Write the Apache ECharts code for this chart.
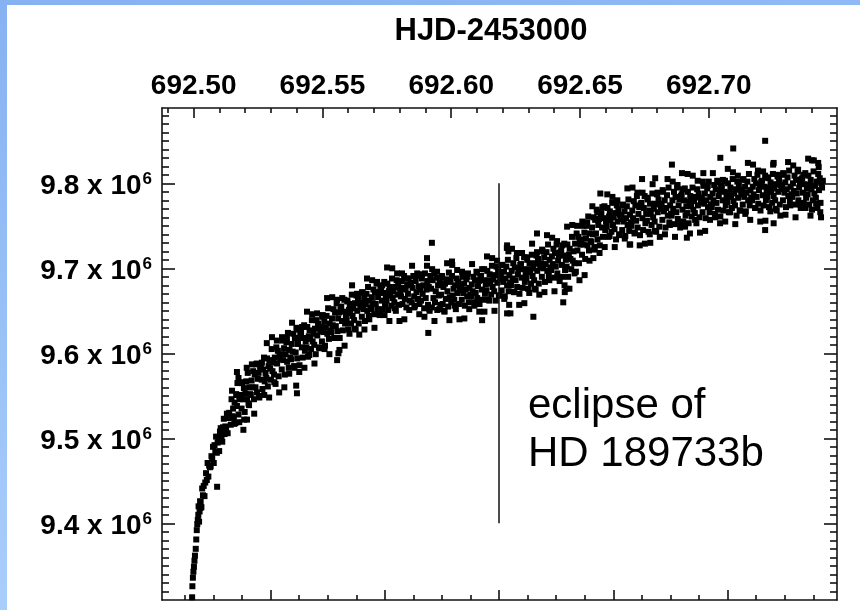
<!DOCTYPE html>
<html>
<head>
<meta charset="utf-8">
<script src="https://cdn.jsdelivr.net/npm/echarts@6/dist/echarts.min.js"></script>
<style>
  html, body { margin: 0; padding: 0; background: #ffffff; }
  #chart { width: 860px; height: 610px; }
</style>
</head>
<body>
<div id="chart"></div>
<script>
// Light curve of HD 189733 around the secondary eclipse of its planet.
// Each point: [HJD - 2453692.5 in units of 1e-4 day, flux in thousands of counts]
const rise = [
  [-6,9313],[-5,9326],[-3,9336],[-1,9343],[1,9349],[3,9356],[5,9362],[8,9370],[10,9381],[12,9392],[14,9399],[16,9404],[18,9410],[19,9420],[21,9402],[23,9414],[25,9426],[26,9418],
  [27,9425],[30,9419],[33,9441],[36,9433],[39,9444],[42,9432],[45,9448],[48,9459],[51,9451],[54,9471],[57,9455],[60,9468],[63,9466],
  [66,9467],[69,9479],[72,9476],[75,9490],[78,9471],[81,9492],[84,9484],[87,9502],[90,9483],[91,9443],[93,9495],[96,9501],[99,9485],[102,9508],
  [105,9512],[108,9502],[111,9496],[114,9513],[117,9523],[120,9505],[123,9514],[126,9511],[129,9529],[132,9506],[135,9524],[138,9530],[141,9524],
  [144,9516],[147,9546],[150,9526],[153,9535],[156,9525],[159,9542],[162,9518],[165,9552],[168,9538],[168,9578],[170,9565],[171,9551],[174,9528],[174,9571],[177,9549],[180,9546],
  [183,9551],[186,9535],[189,9566],[192,9546],[193,9510],[195,9559],[198,9531],[201,9553],[204,9567],[207,9546],[207,9522],[210,9577],[213,9541],[216,9560],[219,9552],
  [222,9551],[225,9568],[228,9560],[231,9579],[234,9546],[237,9575],[240,9560],[243,9587],[246,9554],[249,9570],[252,9577],[255,9548],[258,9583],
  [261,9585],[264,9569],[267,9558],[270,9581],[273,9595],[276,9567],[279,9577],[282,9571],[285,9594],[288,9561],[291,9585],[294,9592],[297,9582],
  [300,9569],[303,9605],[306,9579],[309,9589],[312,9575],[315,9595],[318,9564],[321,9607],[324,9588],[327,9603],[330,9573],[333,9598],[336,9593],
  [339,9599],[342,9581],[345,9615],[348,9592],[351,9606],[354,9575],[357,9599],[360,9613],[363,9590],[366,9624],[369,9583],[372,9604],[375,9595],
  [378,9593],[381,9611],[384,9602],[387,9623],[390,9585],[393,9618],[396,9601],[398,9562],[399,9630],[401,9553],[402,9594],[405,9611],[408,9618],[411,9586],[414,9623],
  [417,9625],[420,9607],[423,9595],[426,9618],[429,9633],[432,9603],[435,9614],[438,9607],[441,9631],[444,9596],[447,9620],[450,9627],[453,9617],
  [456,9605],[459,9639],[462,9614],[465,9623],[468,9610],[471,9629],[474,9599],[477,9639],[480,9621],[483,9635],[486,9607],[489,9630],[492,9626],
  [495,9631],[498,9614],[501,9645],[504,9625],[507,9637],[510,9609],[513,9630],[516,9644],[519,9623],[522,9653],[525,9617],[528,9635],[531,9627],
  [534,9625],[537,9641],[540,9633],[543,9652],[546,9618],[549,9648],[552,9632],[555,9659],[557,9592],[558,9626],[561,9641],[562,9600],[564,9648],[567,9618],[570,9653],
  [573,9655],[576,9638],[579,9627],[582,9649],[585,9663],[588,9635],[591,9645],[594,9639],[597,9661],[600,9628],[603,9651],[606,9658],[608,9647]
];
const plateau = [
  [611,9635],[614,9669],[617,9644],[620,9653],[623,9639],[626,9659],[629,9628],[632,9668],[635,9650],[638,9664],[641,9635],[644,9659],[647,9654],
  [650,9659],[653,9643],[656,9671],[659,9652],[662,9664],[665,9638],[668,9658],[671,9670],[674,9650],[677,9678],[680,9644],[683,9662],[686,9654],
  [689,9652],[692,9666],[695,9659],[698,9675],[701,9646],[704,9672],[707,9658],[710,9682],[713,9652],[716,9666],[719,9671],[722,9645],[725,9676],
  [728,9677],[731,9662],[734,9652],[737,9671],[740,9684],[743,9658],[746,9667],[749,9662],[752,9682],[755,9651],[758,9673],[761,9678],[764,9668],
  [767,9656],[770,9688],[773,9665],[776,9673],[779,9660],[782,9678],[785,9650],[788,9686],[791,9669],[794,9683],[797,9657],[800,9677],[802,9673],
  [805,9667],[808,9685],[811,9658],[814,9677],[817,9691],[820,9664],[823,9675],[826,9654],[829,9681],[832,9670],[835,9688],[838,9662],[841,9680],
  [844,9683],[847,9660],[850,9677],[853,9691],[856,9667],[859,9656],[862,9685],[865,9672],[868,9694],[871,9664],[874,9679],[877,9658],[880,9675],
  [883,9662],[886,9688],[889,9670],[892,9680],[895,9653],[898,9694],[901,9665],[904,9675],[906,9712],[907,9685],[910,9657],[911,9624],[913,9678],[916,9650],[919,9691],
  [922,9676],[925,9654],[925,9730],[928,9686],[931,9665],[934,9694],[937,9660],[940,9673],[943,9689],[946,9651],[949,9680],[952,9668],[955,9683],[958,9657],
  [961,9669],[964,9691],[967,9658],[970,9678],[973,9650],[976,9682],[979,9664],[982,9687],[985,9673],[988,9655],[991,9695],[994,9666],[997,9684],
  [1000,9660],[1003,9691],[1003,9708],[1006,9668],[1009,9676],[1012,9663],[1015,9680],[1018,9652],[1021,9688],[1024,9671],[1027,9684],[1030,9658],[1033,9678],[1035,9674],
  [1038,9679],[1041,9663],[1044,9690],[1047,9671],[1050,9682],[1053,9656],[1056,9675],[1059,9687],[1062,9667],[1065,9694],[1068,9660],[1071,9677],[1074,9669],
  [1077,9667],[1080,9681],[1083,9673],[1086,9690],[1089,9660],[1092,9686],[1095,9671],[1098,9696],[1101,9665],[1104,9679],[1107,9685],[1110,9658],[1113,9689],
  [1116,9691],[1119,9675],[1120,9639],[1122,9663],[1125,9686],[1128,9699],[1131,9670],[1134,9681],[1137,9674],[1140,9697],[1143,9663],[1146,9686],[1149,9693],[1152,9682],
  [1155,9669],[1158,9703],[1161,9678],[1164,9687],[1167,9673],[1170,9692],[1173,9662],[1176,9702],[1179,9683],[1182,9697],[1185,9668],[1188,9692],[1190,9687],
  [1193,9691],[1196,9674],[1199,9704],[1202,9684],[1205,9696],[1208,9667],[1211,9688],[1214,9702],[1217,9680],[1217,9647],[1217,9727],[1220,9710],[1222,9720],[1223,9673],[1226,9692],[1229,9683],[1230,9647],
  [1232,9680],[1235,9697],[1238,9688],[1241,9706],[1244,9672],[1247,9701],[1250,9686],[1253,9712],[1256,9678],[1259,9693],[1262,9699],[1265,9670],[1268,9704],
  [1271,9705],[1274,9689],[1277,9677],[1280,9699],[1283,9713],[1286,9684],[1289,9694],[1292,9688],[1295,9710],[1298,9676],[1301,9699],[1304,9706],[1307,9695],
  [1310,9682],[1313,9716],[1316,9691],[1319,9700],[1319,9643],[1322,9686],[1325,9706],[1328,9675],[1331,9715],[1333,9741],[1334,9697],[1337,9711],[1340,9682],[1343,9705],[1346,9701],
  [1349,9706],[1352,9690],[1355,9720],[1358,9700],[1361,9713],[1364,9684],[1367,9705],[1370,9719],[1373,9697],[1376,9728],[1379,9691],[1382,9710],[1385,9701],
  [1388,9698],[1391,9714],[1394,9705],[1397,9723],[1400,9689],[1403,9718],[1406,9702],[1409,9728],[1412,9694],[1415,9709],[1418,9715],[1421,9685],[1424,9719]
];
const tail = [
  [1427,9721],[1430,9704],[1433,9690],[1435,9660],[1436,9715],[1439,9729],[1441,9672],[1442,9698],[1445,9710],[1447,9676],[1448,9702],[1451,9728],[1454,9690],[1457,9716],[1460,9723],[1463,9711],
  [1466,9699],[1469,9737],[1472,9709],[1475,9720],[1478,9706],[1481,9729],[1484,9696],[1487,9741],[1490,9721],[1493,9737],[1496,9706],[1499,9733],[1502,9728],
  [1505,9734],[1508,9716],[1511,9750],[1514,9728],[1517,9742],[1520,9711],[1523,9735],[1526,9750],[1529,9727],[1532,9761],[1535,9721],[1538,9741],[1541,9732],
  [1544,9731],[1547,9748],[1550,9740],[1552,9712],[1553,9760],[1556,9725],[1559,9757],[1562,9741],[1565,9769],[1568,9734],[1571,9751],[1574,9758],[1577,9727],[1579,9788],[1580,9764],
  [1583,9765],[1586,9748],[1589,9737],[1592,9759],[1595,9773],[1598,9745],[1601,9755],[1604,9749],[1607,9771],[1610,9737],[1613,9761],[1616,9767],[1619,9756],
  [1622,9743],[1625,9777],[1628,9751],[1631,9760],[1634,9746],[1637,9765],[1640,9734],[1643,9774],[1646,9755],[1649,9769],[1652,9740],[1655,9763],[1658,9758],
  [1661,9762],[1664,9745],[1667,9775],[1670,9755],[1673,9767],[1676,9738],[1679,9759],[1682,9773],[1685,9751],[1688,9781],[1691,9744],[1694,9763],[1695,9728],[1697,9754],
  [1700,9750],[1703,9768],[1706,9759],[1709,9779],[1712,9741],[1715,9774],[1718,9756],[1721,9785],[1724,9748],[1727,9764],[1730,9772],[1733,9739],[1736,9776],
  [1739,9777],[1741,9805],[1742,9759],[1745,9745],[1748,9771],[1751,9785],[1754,9753],[1757,9764],[1760,9756],[1763,9781],[1766,9743],[1769,9768],[1772,9776],[1773,9730],[1775,9764],
  [1778,9751],[1781,9788],[1784,9760],[1787,9770],[1790,9755],[1792,9806],[1793,9776],[1796,9743],[1799,9787],[1802,9766],[1805,9781],[1808,9749],[1811,9775],[1814,9770],
  [1817,9776],[1820,9757],[1823,9790],[1826,9767],[1829,9780],[1832,9748],[1835,9771],[1838,9786],[1841,9762],[1844,9795],[1847,9754],[1850,9774],[1853,9764],
  [1856,9762],[1857,9822],[1859,9780],[1862,9770],[1865,9790],[1868,9752],[1871,9784],[1874,9766],[1877,9795],[1880,9758],[1883,9774],[1886,9781],[1889,9748],[1892,9785],
  [1895,9787],[1896,9812],[1898,9769],[1901,9755],[1904,9780],[1907,9794],[1910,9762],[1913,9773],[1915,9736],[1916,9765],[1919,9790],[1922,9753],[1925,9778],[1928,9785],[1931,9773],
  [1934,9761],[1937,9795],[1940,9769],[1943,9779],[1946,9765],[1949,9784],[1952,9753],[1955,9793],[1958,9774],[1961,9788],[1964,9760],[1967,9783],[1970,9778],
  [1973,9783],[1976,9766],[1979,9797],[1979,9812],[1982,9776],[1985,9788],[1988,9759],[1991,9780],[1994,9794],[1997,9772],[2000,9802],[2003,9766],[2006,9784],[2009,9775],
  [2012,9772],[2015,9788],[2018,9780],[2021,9798],[2024,9764],[2027,9793],[2030,9777],[2033,9803],[2036,9769],[2039,9785],[2042,9791],[2045,9761],[2045,9830],[2048,9795],
  [2051,9797],[2054,9780],[2057,9768],[2060,9790],[2063,9803],[2066,9774],[2069,9784],[2072,9778],[2075,9800],[2078,9766],[2081,9789],[2084,9795],[2087,9784],
  [2090,9771],[2093,9805],[2095,9841],[2096,9779],[2099,9788],[2102,9774],[2105,9793],[2108,9762],[2111,9802],[2114,9783],[2117,9797],[2120,9768],[2123,9792],[2126,9787],
  [2129,9792],[2132,9775],[2135,9805],[2138,9784],[2141,9796],[2144,9767],[2147,9789],[2150,9802],[2153,9780],[2156,9811],[2159,9774],[2162,9792],[2165,9783],
  [2168,9780],[2171,9796],[2174,9787],[2177,9805],[2180,9771],[2183,9800],[2186,9784],[2189,9810],[2192,9776],[2195,9792],[2198,9798],[2201,9768],[2204,9802],
  [2207,9803],[2210,9786],[2213,9774],[2216,9796],[2219,9809],[2219,9850],[2219,9745],[2222,9780],[2225,9791],[2228,9784],[2231,9806],[2234,9772],[2237,9795],[2240,9801],[2243,9790],
  [2246,9777],[2249,9811],[2252,9785],[2252,9753],[2252,9824],[2255,9794],[2258,9780],[2261,9799],[2264,9768],[2267,9808],[2270,9790],[2273,9804],[2276,9775],[2279,9798],[2282,9793],
  [2285,9797],[2288,9780],[2291,9810],[2294,9789],[2297,9801],[2300,9772],[2303,9793],[2306,9807],[2309,9785],[2312,9815],[2315,9778],[2318,9796],[2321,9787],
  [2324,9784],[2327,9800],[2330,9791],[2333,9809],[2336,9775],[2339,9804],[2342,9788],[2345,9814],[2348,9780],[2351,9795],[2354,9801],[2357,9771],[2360,9805],
  [2363,9806],[2366,9789],[2369,9777],[2372,9799],[2375,9812],[2378,9783],[2381,9794],[2384,9787],[2387,9809],[2390,9775],[2393,9798],[2396,9804],[2399,9793],
  [2401,9827],[2401,9769],[2404,9780],[2407,9814],[2410,9788],[2413,9797],[2416,9783],[2419,9802],[2422,9771],[2425,9811],[2425,9824],[2428,9792],[2431,9806],[2433,9766],[2434,9777],[2437,9800],[2440,9795],[2443,9803]
];
// Readings scattered along the upper and lower parts of the band
const edges = [
  [149,9556],[158,9517],[168,9551],[177,9519],[187,9565],[196,9522],[206,9583],[215,9539],
  [226,9587],[235,9529],[245,9588],[254,9550],[265,9589],[274,9551],[284,9612],[293,9548],
  [304,9619],[313,9566],[323,9615],[332,9554],[343,9619],[352,9560],[362,9618],[371,9576],
  [382,9636],[391,9583],[401,9628],[410,9578],[421,9631],[430,9583],[440,9649],[449,9598],
  [460,9646],[469,9588],[479,9647],[488,9606],[499,9643],[508,9605],[518,9665],[527,9599],
  [538,9666],[547,9618],[557,9663],[566,9604],[577,9665],[586,9609],[596,9662],[605,9623],
  [615,9680],[624,9629],[634,9670],[643,9622],[654,9672],[663,9628],[673,9688],[682,9640],
  [693,9686],[702,9630],[712,9684],[721,9647],[732,9680],[741,9645],[751,9701],[760,9638],
  [771,9700],[780,9653],[790,9694],[799,9638],[809,9694],[818,9640],[828,9688],[837,9651],
  [848,9703],[857,9654],[867,9691],[876,9646],[887,9693],[896,9643],[906,9703],[915,9652],
  [926,9699],[935,9638],[945,9696],[954,9652],[965,9689],[974,9649],[984,9706],[993,9639],
  [1004,9704],[1013,9656],[1023,9698],[1032,9640],[1042,9696],[1051,9641],[1061,9690],[1070,9652],
  [1081,9705],[1090,9656],[1100,9695],[1109,9649],[1120,9699],[1129,9649],[1139,9714],[1148,9662],
  [1159,9712],[1168,9650],[1178,9709],[1187,9668],[1197,9704],[1206,9664],[1216,9724],[1225,9657],
  [1236,9723],[1245,9672],[1255,9718],[1264,9657],[1275,9718],[1284,9659],[1294,9713],[1303,9671],
  [1314,9729],[1323,9676],[1333,9719],[1342,9669],[1353,9722],[1362,9672],[1372,9739],[1381,9686],
  [1392,9736],[1401,9673],[1411,9732],[1420,9689],[1431,9727],[1440,9680],[1450,9749],[1459,9676],
  [1470,9751],[1479,9694],[1489,9750],[1498,9686],[1509,9755],[1518,9692],[1528,9754],[1537,9709],
  [1548,9773],[1557,9722],[1567,9766],[1576,9718],[1587,9772],[1596,9725],[1606,9787],[1615,9738],
  [1626,9784],[1635,9725],[1645,9780],[1654,9739],[1665,9774],[1674,9735],[1684,9794],[1693,9728],
  [1704,9795],[1713,9742],[1723,9789],[1732,9727],[1743,9789],[1752,9729],[1762,9783],[1771,9740],
  [1782,9799],[1791,9744],[1801,9789],[1810,9737],[1821,9792],[1830,9740],[1840,9805],[1849,9751],
  [1860,9802],[1869,9737],[1879,9798],[1888,9753],[1899,9793],[1908,9749],[1918,9811],[1927,9741],
  [1938,9809],[1947,9757],[1957,9803],[1966,9742],[1977,9802],[1986,9744],[1996,9797],[2005,9757],
  [2016,9812],[2025,9760],[2035,9801],[2044,9753],[2055,9804],[2064,9755],[2074,9817],[2083,9766],
  [2094,9813],[2103,9752],[2113,9809],[2122,9768],[2133,9804],[2142,9764],[2152,9824],[2161,9757],
  [2172,9822],[2181,9771],[2191,9815],[2200,9755],[2211,9814],[2220,9756],[2230,9807],[2239,9767],
  [2250,9822],[2259,9770],[2269,9810],[2278,9762],[2289,9812],[2298,9763],[2308,9825],[2317,9774],
  [2328,9821],[2337,9760],[2347,9816],[2356,9775],[2367,9810],[2376,9771],[2386,9829],[2395,9762],
  [2408,9827],[2417,9776],[2427,9819],[2436,9760]
];

// Axis ranges and labelled ticks
const hjdRange = [692.4877, 692.7498];          // HJD - 2453000
const fluxRange = [9.3098e6, 9.8886e6];
const hjdTicks = [692.50, 692.55, 692.60, 692.65, 692.70];
const fluxTicks = [9.4e6, 9.5e6, 9.6e6, 9.7e6, 9.8e6];
const phaseTicks = [0.46, 0.48, 0.50, 0.52, 0.54];

// Mid-eclipse time, orbital period (days) and the extent of the marker line
const eclipseHjd = 692.6186;
const orbitalPeriod = 2.21857;
const eclipseMarker = [9.4e6, 9.8e6];
const eclipseNote = ['eclipse of', 'HD 189733b'];
const timeTitle = 'HJD-2453000';

const FONT = '"Liberation Sans", Arial, Helvetica, sans-serif';
const INK = '#111111';

const toPoint = p => [692.5 + p[0] / 1e4, p[1] * 1000];
const points = rise.concat(plateau, tail, edges).map(toPoint);

// Minor tick positions
const hjdMinor = [];
for (let k = 49; k <= 74; k++) if (k % 5 !== 0) hjdMinor.push(+(692 + k / 100).toFixed(2));
const fluxMinor = [];
for (let k = 932; k <= 988; k++) if (k % 10 !== 0) fluxMinor.push(k * 1e4);
const phaseMinor = [];
for (let k = 89; k <= 111; k++) if (k % 4 !== 0) phaseMinor.push(+(k * 0.005).toFixed(3));

const phaseOf = h => 0.5 + (h - eclipseHjd) / orbitalPeriod;
const phaseRange = hjdRange.map(phaseOf);

function tickAxis(position, range, ticks, length, withLine) {
  return {
    type: 'value',
    position: position,
    min: range[0],
    max: range[1],
    scale: true,
    axisLine: { show: withLine, onZero: false, lineStyle: { color: INK, width: 1.6 } },
    axisTick: { show: true, inside: true, length: length, customValues: ticks,
                lineStyle: { color: INK, width: 1.6 } },
    axisLabel: { show: false },
    splitLine: { show: false }
  };
}

const topMajor = tickAxis('top', hjdRange, hjdTicks, 10, true);
topMajor.axisLabel = {
  show: true,
  customValues: hjdTicks,
  formatter: v => v.toFixed(2),
  margin: 8,
  color: '#000',
  fontFamily: FONT,
  fontSize: 28,
  fontWeight: 'bold'
};

const leftMajor = tickAxis('left', fluxRange, fluxTicks, 13, true);
leftMajor.axisLabel = {
  show: true,
  customValues: fluxTicks,
  margin: 10,
  formatter: v => '{m|' + (v / 1e6).toFixed(1) + ' x 10}{e|6}',
  rich: {
    m: { fontFamily: FONT, fontSize: 28, fontWeight: 'bold', color: '#000', lineHeight: 30, padding: [5, 0, 0, 0] },
    e: { fontFamily: FONT, fontSize: 17, fontWeight: 'bold', color: '#000', verticalAlign: 'top', lineHeight: 17, padding: [2, 0, 0, 1] }
  }
};

const chart = echarts.init(document.getElementById('chart'));
chart.setOption({
  backgroundColor: '#ffffff',
  animation: false,
  grid: { left: 162, top: 108, width: 675, height: 492 },
  xAxis: [
    topMajor,
    tickAxis('top', hjdRange, hjdMinor, 5, false),
    tickAxis('bottom', phaseRange, phaseTicks, 10, true),
    tickAxis('bottom', phaseRange, phaseMinor, 5, false)
  ],
  yAxis: [
    leftMajor,
    tickAxis('left', fluxRange, fluxMinor, 7, false),
    tickAxis('right', fluxRange, fluxTicks, 13, true),
    tickAxis('right', fluxRange, fluxMinor, 7, false)
  ],
  graphic: [
    { type: 'rect', left: 0, top: 0, shape: { width: 860, height: 5 }, silent: true,
      style: { fill: new echarts.graphic.LinearGradient(0, 0, 1, 0, [
        { offset: 0, color: '#86b2f2' }, { offset: 1, color: '#8fbaf5' }]) } },
    { type: 'rect', left: 0, top: 0, shape: { width: 7, height: 610 }, silent: true,
      style: { fill: new echarts.graphic.LinearGradient(0, 0, 0, 1, [
        { offset: 0, color: '#86b2f2' }, { offset: 1, color: '#aacefb' }]) } },
    { type: 'text', x: 491, y: 31, silent: true,
      style: { text: timeTitle, fill: '#000', font: 'bold 31px ' + FONT,
               textAlign: 'center', textVerticalAlign: 'middle' } },
    { type: 'text', x: 528, y: 406, silent: true,
      style: { text: eclipseNote[0], fill: '#000', font: '42px ' + FONT,
               textAlign: 'left', textVerticalAlign: 'middle' } },
    { type: 'text', x: 528, y: 454, silent: true,
      style: { text: eclipseNote[1], fill: '#000', font: '42px ' + FONT,
               textAlign: 'left', textVerticalAlign: 'middle' } }
  ],
  series: [{
    type: 'scatter',
    xAxisIndex: 0,
    yAxisIndex: 0,
    symbol: 'rect',
    symbolSize: 6,
    itemStyle: { color: '#000', opacity: 1 },
    silent: true,
    clip: true,
    data: points,
    markLine: {
      silent: true,
      symbol: ['none', 'none'],
      label: { show: false },
      lineStyle: { color: INK, width: 1.5, type: 'solid' },
      data: [[{ coord: [eclipseHjd, eclipseMarker[0]] }, { coord: [eclipseHjd, eclipseMarker[1]] }]]
    }
  }]
});
</script>
</body>
</html>
